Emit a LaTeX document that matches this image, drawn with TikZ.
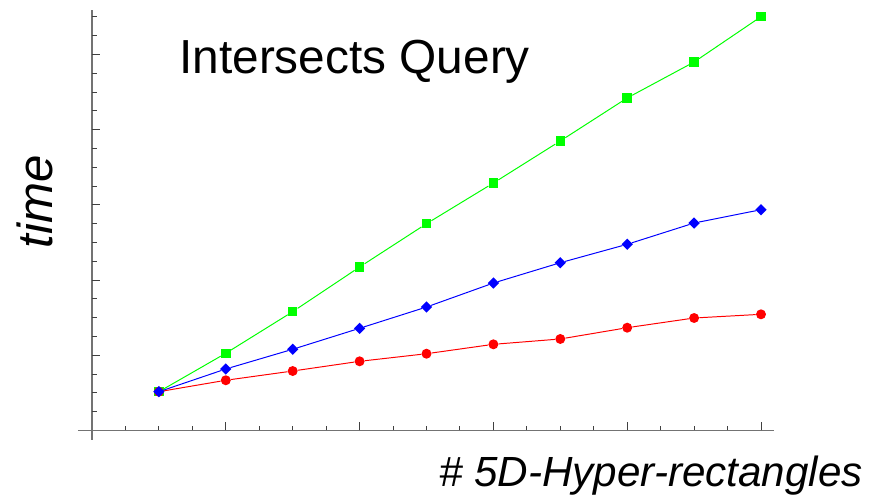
\documentclass[tikz,border=0pt]{standalone}
\usepackage{fontspec}
\setmainfont{Liberation Sans}
\usetikzlibrary{shapes.geometric, positioning}

\tikzset{
  axisline/.style={draw=black!55, line width=1.3pt},
  ticksmall/.style={draw=black!75, line width=0.7pt},
  gsq/.style={rectangle, fill=green, minimum size=6.7pt, inner sep=0pt},
  rdot/.style={circle, fill=red, minimum size=7.1pt, inner sep=0pt},
  bdia/.style={diamond, fill=blue, minimum size=8.2pt, inner sep=0pt},
}

\begin{document}
\begin{tikzpicture}[x=1.6725cm, y=1.88cm]
  \useasboundingbox (-1.3752,-0.9375) rectangle (11.8535,5.7247);

  % axes
  \coordinate (xl) at (-0.21,0);
  \coordinate (xr) at (10.19,0);
  \coordinate (yb) at (0,-0.126);
  \coordinate (yt) at (0,5.59);
  \draw[axisline] (xl) -- (xr);
  \draw[axisline] (yb) -- (yt);
  \foreach \t in {0.5,1,...,10}
    \draw[ticksmall] (\t,0) -- ++(0,0.12cm);
  \foreach \t in {2,4,...,10}
    \draw[ticksmall] (\t,0) -- ++(0,0.2cm);
  \foreach \t in {0.25,0.5,...,5.5}
    \draw[ticksmall] (0,\t) -- ++(0.12cm,0);
  \foreach \t in {1,...,5}
    \draw[ticksmall] (0,\t) -- ++(0.2cm,0);

  % green series
  \foreach \v [count=\i] in {0.516,1.027,1.580,2.174,2.750,3.291,3.850,4.422,4.900,5.503}
    \node[gsq] (g\i) at (\i,\v) {};
  \foreach \i [remember=\i as \p (initially 1)] in {2,...,10}
    \draw[green, line width=0.7pt] (g\p) -- (g\i);

  % red series
  \foreach \v [count=\i] in {0.516,0.668,0.791,0.920,1.021,1.146,1.217,1.367,1.496,1.545}
    \node[rdot] (r\i) at (\i,\v) {};
  \foreach \i [remember=\i as \p (initially 1)] in {2,...,10}
    \draw[red, line width=0.7pt] (r\p) -- (r\i);

  % blue series
  \foreach \v [count=\i] in {0.516,0.818,1.080,1.359,1.642,1.961,2.231,2.476,2.759,2.936}
    \node[bdia] (b\i) at (\i,\v) {};
  \foreach \i [remember=\i as \p (initially 1)] in {2,...,10}
    \draw[blue, line width=0.7pt] (b\p) -- (b\i);

  \node[anchor=base west, inner sep=0pt, font=\fontsize{34}{40}\selectfont] (title) at (1.3004,4.750) {Intersects Query};
  \node[rotate=90, inner sep=0pt, font=\fontsize{35}{40}\selectfont\itshape] (ylab) at (-0.852,3.039) {time};
  \node[anchor=base east, inner sep=0pt, font=\fontsize{30}{36}\selectfont\itshape] (xlab) at (11.525,-0.751) {\# 5D-Hyper-rectangles};
\end{tikzpicture}
\end{document}
